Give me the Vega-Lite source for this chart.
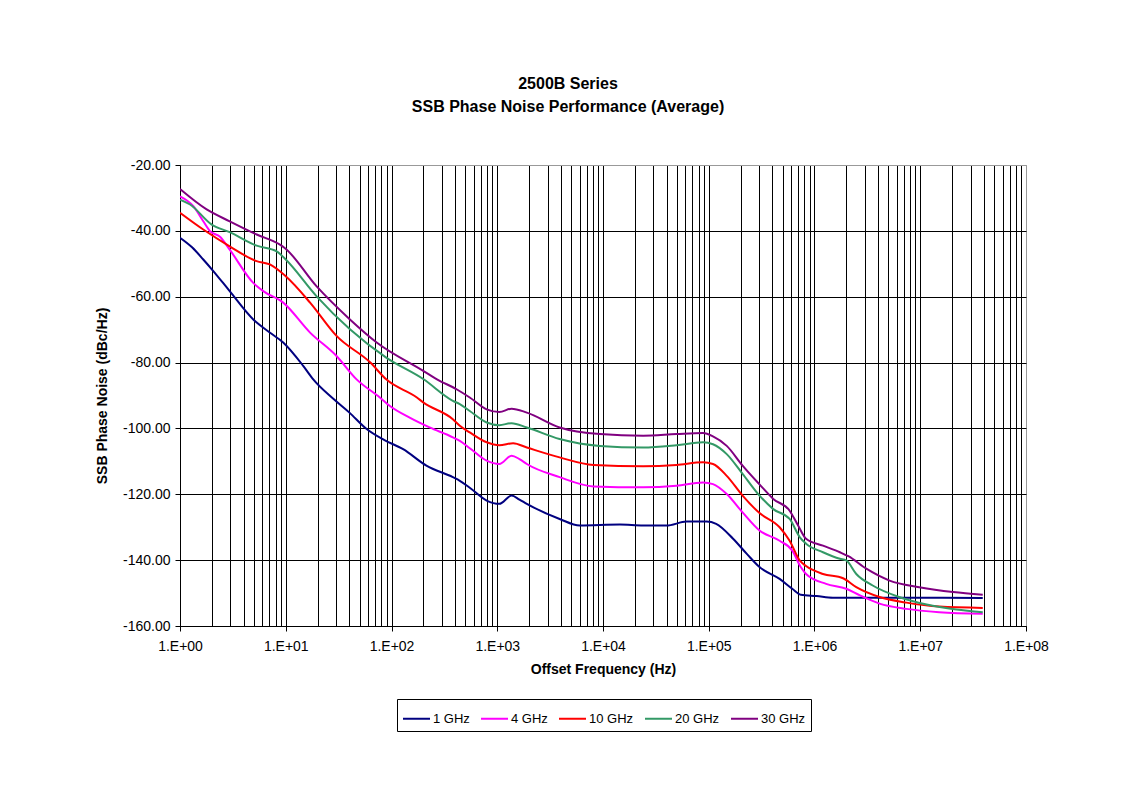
{
  "$schema": "https://vega.github.io/schema/vega-lite/v6.json",
  "width": 846,
  "height": 461,
  "autosize": {"type": "none"},
  "padding": {"left": 180, "top": 165, "right": 101, "bottom": 163},
  "background": "white",
  "config": {
    "font": "Liberation Sans",
    "view": {"stroke": "#999999", "strokeWidth": 1},
    "axis": {"labelFont": "Liberation Sans", "titleFont": "Liberation Sans", "labelColor": "#000", "titleColor": "#000"}
  },
  "title": {
    "text": ["2500B Series", "SSB Phase Noise Performance (Average)"],
    "fontSize": 16,
    "fontWeight": "bold",
    "font": "Liberation Sans",
    "color": "#000",
    "anchor": "middle",
    "frame": "group",
    "dx": -35,
    "offset": 43,
    "lineHeight": 23
  },
  "data": {
    "values": [
      {"s": "1 GHz", "f": 1, "v": -42.1},
      {"s": "1 GHz", "f": 1.3, "v": -45.0},
      {"s": "1 GHz", "f": 1.66, "v": -48.7},
      {"s": "1 GHz", "f": 2.065, "v": -52.2},
      {"s": "1 GHz", "f": 2.951, "v": -58.3},
      {"s": "1 GHz", "f": 4.93, "v": -66.9},
      {"s": "1 GHz", "f": 7.0, "v": -70.8},
      {"s": "1 GHz", "f": 9.462, "v": -73.9},
      {"s": "1 GHz", "f": 14.62, "v": -81.0},
      {"s": "1 GHz", "f": 18.2, "v": -85.1},
      {"s": "1 GHz", "f": 28.18, "v": -91.0},
      {"s": "1 GHz", "f": 40, "v": -95.2},
      {"s": "1 GHz", "f": 58.21, "v": -100.2},
      {"s": "1 GHz", "f": 85, "v": -103.5},
      {"s": "1 GHz", "f": 128.8, "v": -106.3},
      {"s": "1 GHz", "f": 213.8, "v": -111.3},
      {"s": "1 GHz", "f": 380.2, "v": -114.8},
      {"s": "1 GHz", "f": 442.6, "v": -115.9},
      {"s": "1 GHz", "f": 549.5, "v": -118.0},
      {"s": "1 GHz", "f": 794.3, "v": -121.9},
      {"s": "1 GHz", "f": 1047, "v": -122.9},
      {"s": "1 GHz", "f": 1365, "v": -120.4},
      {"s": "1 GHz", "f": 1622, "v": -121.6},
      {"s": "1 GHz", "f": 1905, "v": -122.9},
      {"s": "1 GHz", "f": 3890, "v": -127.5},
      {"s": "1 GHz", "f": 6026, "v": -129.5},
      {"s": "1 GHz", "f": 14454, "v": -129.2},
      {"s": "1 GHz", "f": 23988, "v": -129.5},
      {"s": "1 GHz", "f": 39811, "v": -129.5},
      {"s": "1 GHz", "f": 61660, "v": -128.3},
      {"s": "1 GHz", "f": 95499, "v": -128.3},
      {"s": "1 GHz", "f": 117490, "v": -129.0},
      {"s": "1 GHz", "f": 169824, "v": -133.5},
      {"s": "1 GHz", "f": 229087, "v": -138.1},
      {"s": "1 GHz", "f": 301995, "v": -142.1},
      {"s": "1 GHz", "f": 467735, "v": -145.7},
      {"s": "1 GHz", "f": 616595, "v": -148.7},
      {"s": "1 GHz", "f": 741310, "v": -150.5},
      {"s": "1 GHz", "f": 1047129, "v": -150.9},
      {"s": "1 GHz", "f": 1496236, "v": -151.4},
      {"s": "1 GHz", "f": 3548134, "v": -151.4},
      {"s": "1 GHz", "f": 39000000, "v": -151.5},

      {"s": "4 GHz", "f": 1, "v": -29.5},
      {"s": "4 GHz", "f": 1.337, "v": -32.5},
      {"s": "4 GHz", "f": 1.66, "v": -37.1},
      {"s": "4 GHz", "f": 1.923, "v": -40.1},
      {"s": "4 GHz", "f": 2.388, "v": -41.8},
      {"s": "4 GHz", "f": 2.951, "v": -45.7},
      {"s": "4 GHz", "f": 4.93, "v": -55.8},
      {"s": "4 GHz", "f": 6.124, "v": -58.3},
      {"s": "4 GHz", "f": 9.462, "v": -61.8},
      {"s": "4 GHz", "f": 16.98, "v": -70.9},
      {"s": "4 GHz", "f": 30.2, "v": -78.0},
      {"s": "4 GHz", "f": 46.77, "v": -85.1},
      {"s": "4 GHz", "f": 77.62, "v": -90.6},
      {"s": "4 GHz", "f": 96.6, "v": -93.2},
      {"s": "4 GHz", "f": 150, "v": -96.8},
      {"s": "4 GHz", "f": 229.1, "v": -99.7},
      {"s": "4 GHz", "f": 380.2, "v": -102.7},
      {"s": "4 GHz", "f": 442.6, "v": -103.8},
      {"s": "4 GHz", "f": 549.5, "v": -106.0},
      {"s": "4 GHz", "f": 794.3, "v": -109.8},
      {"s": "4 GHz", "f": 1047, "v": -110.8},
      {"s": "4 GHz", "f": 1365, "v": -108.3},
      {"s": "4 GHz", "f": 1622, "v": -109.3},
      {"s": "4 GHz", "f": 1905, "v": -110.8},
      {"s": "4 GHz", "f": 3890, "v": -114.8},
      {"s": "4 GHz", "f": 8128, "v": -117.6},
      {"s": "4 GHz", "f": 23988, "v": -117.9},
      {"s": "4 GHz", "f": 49545, "v": -117.4},
      {"s": "4 GHz", "f": 88308, "v": -116.4},
      {"s": "4 GHz", "f": 109648, "v": -116.9},
      {"s": "4 GHz", "f": 147911, "v": -119.9},
      {"s": "4 GHz", "f": 208930, "v": -125.5},
      {"s": "4 GHz", "f": 301995, "v": -131.0},
      {"s": "4 GHz", "f": 467735, "v": -134.1},
      {"s": "4 GHz", "f": 616595, "v": -137.1},
      {"s": "4 GHz", "f": 741310, "v": -142.1},
      {"s": "4 GHz", "f": 831764, "v": -144.2},
      {"s": "4 GHz", "f": 1288250, "v": -147.2},
      {"s": "4 GHz", "f": 1995262, "v": -148.7},
      {"s": "4 GHz", "f": 2691535, "v": -150.7},
      {"s": "4 GHz", "f": 4120975, "v": -153.2},
      {"s": "4 GHz", "f": 7413102, "v": -154.8},
      {"s": "4 GHz", "f": 15135612, "v": -155.8},
      {"s": "4 GHz", "f": 39000000, "v": -156.3},

      {"s": "10 GHz", "f": 1, "v": -34.5},
      {"s": "10 GHz", "f": 1.66, "v": -39.6},
      {"s": "10 GHz", "f": 2.951, "v": -44.7},
      {"s": "10 GHz", "f": 5.309, "v": -49.2},
      {"s": "10 GHz", "f": 7.079, "v": -50.2},
      {"s": "10 GHz", "f": 10, "v": -53.8},
      {"s": "10 GHz", "f": 16.98, "v": -61.8},
      {"s": "10 GHz", "f": 30.2, "v": -71.9},
      {"s": "10 GHz", "f": 63.1, "v": -80.0},
      {"s": "10 GHz", "f": 89.13, "v": -85.1},
      {"s": "10 GHz", "f": 173.8, "v": -90.6},
      {"s": "10 GHz", "f": 199.5, "v": -92.1},
      {"s": "10 GHz", "f": 380.2, "v": -97.2},
      {"s": "10 GHz", "f": 442.6, "v": -99.2},
      {"s": "10 GHz", "f": 549.5, "v": -101.2},
      {"s": "10 GHz", "f": 794.3, "v": -104.2},
      {"s": "10 GHz", "f": 1047, "v": -105.1},
      {"s": "10 GHz", "f": 1413, "v": -104.5},
      {"s": "10 GHz", "f": 1905, "v": -105.8},
      {"s": "10 GHz", "f": 3890, "v": -108.8},
      {"s": "10 GHz", "f": 8128, "v": -111.1},
      {"s": "10 GHz", "f": 23988, "v": -111.5},
      {"s": "10 GHz", "f": 49545, "v": -111.1},
      {"s": "10 GHz", "f": 88308, "v": -110.3},
      {"s": "10 GHz", "f": 109648, "v": -110.8},
      {"s": "10 GHz", "f": 147911, "v": -114.4},
      {"s": "10 GHz", "f": 208930, "v": -120.4},
      {"s": "10 GHz", "f": 301995, "v": -125.7},
      {"s": "10 GHz", "f": 467735, "v": -130.0},
      {"s": "10 GHz", "f": 582103, "v": -134.1},
      {"s": "10 GHz", "f": 724436, "v": -140.1},
      {"s": "10 GHz", "f": 831764, "v": -141.8},
      {"s": "10 GHz", "f": 1202264, "v": -144.2},
      {"s": "10 GHz", "f": 1862087, "v": -145.5},
      {"s": "10 GHz", "f": 2483133, "v": -148.2},
      {"s": "10 GHz", "f": 4120975, "v": -151.2},
      {"s": "10 GHz", "f": 7413102, "v": -152.9},
      {"s": "10 GHz", "f": 15135612, "v": -154.1},
      {"s": "10 GHz", "f": 39000000, "v": -154.5},

      {"s": "20 GHz", "f": 1, "v": -30.5},
      {"s": "20 GHz", "f": 1.245, "v": -32.0},
      {"s": "20 GHz", "f": 1.995, "v": -38.1},
      {"s": "20 GHz", "f": 2.951, "v": -40.4},
      {"s": "20 GHz", "f": 5.309, "v": -44.5},
      {"s": "20 GHz", "f": 8.204, "v": -46.2},
      {"s": "20 GHz", "f": 10, "v": -48.7},
      {"s": "20 GHz", "f": 19.5, "v": -59.8},
      {"s": "20 GHz", "f": 40.46, "v": -69.9},
      {"s": "20 GHz", "f": 89.13, "v": -78.5},
      {"s": "20 GHz", "f": 199.5, "v": -85.0},
      {"s": "20 GHz", "f": 380.2, "v": -91.6},
      {"s": "20 GHz", "f": 442.6, "v": -92.6},
      {"s": "20 GHz", "f": 549.5, "v": -94.7},
      {"s": "20 GHz", "f": 794.3, "v": -98.2},
      {"s": "20 GHz", "f": 1047, "v": -99.0},
      {"s": "20 GHz", "f": 1365, "v": -98.4},
      {"s": "20 GHz", "f": 1905, "v": -99.7},
      {"s": "20 GHz", "f": 3890, "v": -103.2},
      {"s": "20 GHz", "f": 9333, "v": -105.3},
      {"s": "20 GHz", "f": 23988, "v": -105.8},
      {"s": "20 GHz", "f": 49545, "v": -105.1},
      {"s": "20 GHz", "f": 88308, "v": -104.2},
      {"s": "20 GHz", "f": 109648, "v": -104.8},
      {"s": "20 GHz", "f": 147911, "v": -107.8},
      {"s": "20 GHz", "f": 208930, "v": -113.8},
      {"s": "20 GHz", "f": 301995, "v": -120.4},
      {"s": "20 GHz", "f": 407380, "v": -124.5},
      {"s": "20 GHz", "f": 582103, "v": -127.5},
      {"s": "20 GHz", "f": 724436, "v": -133.0},
      {"s": "20 GHz", "f": 831764, "v": -135.0},
      {"s": "20 GHz", "f": 1202264, "v": -137.6},
      {"s": "20 GHz", "f": 1737801, "v": -139.6},
      {"s": "20 GHz", "f": 1995262, "v": -140.1},
      {"s": "20 GHz", "f": 2483133, "v": -144.2},
      {"s": "20 GHz", "f": 3548134, "v": -147.7},
      {"s": "20 GHz", "f": 6309573, "v": -151.2},
      {"s": "20 GHz", "f": 11481536, "v": -153.5},
      {"s": "20 GHz", "f": 21877616, "v": -155.0},
      {"s": "20 GHz", "f": 39000000, "v": -155.8},

      {"s": "30 GHz", "f": 1, "v": -27.3},
      {"s": "30 GHz", "f": 1.786, "v": -33.5},
      {"s": "30 GHz", "f": 2.951, "v": -37.1},
      {"s": "30 GHz", "f": 5.309, "v": -41.1},
      {"s": "30 GHz", "f": 8.81, "v": -44.2},
      {"s": "30 GHz", "f": 9.772, "v": -45.2},
      {"s": "30 GHz", "f": 19.5, "v": -56.8},
      {"s": "30 GHz", "f": 40.46, "v": -66.9},
      {"s": "30 GHz", "f": 72.44, "v": -73.9},
      {"s": "30 GHz", "f": 199.5, "v": -82.5},
      {"s": "30 GHz", "f": 269.2, "v": -85.1},
      {"s": "30 GHz", "f": 412.1, "v": -88.1},
      {"s": "30 GHz", "f": 549.5, "v": -90.6},
      {"s": "30 GHz", "f": 794.3, "v": -94.2},
      {"s": "30 GHz", "f": 1047, "v": -95.0},
      {"s": "30 GHz", "f": 1365, "v": -94.0},
      {"s": "30 GHz", "f": 1905, "v": -95.2},
      {"s": "30 GHz", "f": 3890, "v": -99.7},
      {"s": "30 GHz", "f": 9333, "v": -101.7},
      {"s": "30 GHz", "f": 23988, "v": -102.2},
      {"s": "30 GHz", "f": 49545, "v": -101.7},
      {"s": "30 GHz", "f": 88308, "v": -101.4},
      {"s": "30 GHz", "f": 109648, "v": -102.4},
      {"s": "30 GHz", "f": 147911, "v": -105.3},
      {"s": "30 GHz", "f": 208930, "v": -111.3},
      {"s": "30 GHz", "f": 301995, "v": -117.0},
      {"s": "30 GHz", "f": 407380, "v": -121.4},
      {"s": "30 GHz", "f": 582103, "v": -125.0},
      {"s": "30 GHz", "f": 699842, "v": -129.5},
      {"s": "30 GHz", "f": 831764, "v": -133.5},
      {"s": "30 GHz", "f": 1202264, "v": -135.6},
      {"s": "30 GHz", "f": 1737801, "v": -137.6},
      {"s": "30 GHz", "f": 2089296, "v": -138.8},
      {"s": "30 GHz", "f": 3090295, "v": -142.6},
      {"s": "30 GHz", "f": 5128614, "v": -146.2},
      {"s": "30 GHz", "f": 9772372, "v": -148.2},
      {"s": "30 GHz", "f": 20417379, "v": -149.7},
      {"s": "30 GHz", "f": 39000000, "v": -150.5}
    ]
  },
  "mark": {"type": "line", "strokeWidth": 2, "clip": true, "interpolate": "monotone"},
  "encoding": {
    "x": {
      "field": "f",
      "type": "quantitative",
      "scale": {"type": "log", "domain": [1, 100000000], "nice": false},
      "axis": {
        "title": "Offset Frequency  (Hz)",
        "titleFontSize": 14,
        "titleFontWeight": "bold",
        "titlePadding": 9,
        "labelFontSize": 14,
        "labelPadding": 8,
        "labelFlush": false,
        "labelOverlap": false,
        "values": [1,2,3,4,5,6,7,8,9,10,20,30,40,50,60,70,80,90,100,200,300,400,500,600,700,800,900,1000,2000,3000,4000,5000,6000,7000,8000,9000,10000,20000,30000,40000,50000,60000,70000,80000,90000,100000,200000,300000,400000,500000,600000,700000,800000,900000,1000000,2000000,3000000,4000000,5000000,6000000,7000000,8000000,9000000,10000000,20000000,30000000,40000000,50000000,60000000,70000000,80000000,90000000,100000000],
        "labelExpr": "abs(log(datum.value)/LN10 - round(log(datum.value)/LN10)) < 0.000001 ? '1.E+0' + round(log(datum.value)/LN10) : ''",
        "tickOpacity": {"condition": {"test": "abs(log(datum.value)/LN10 - round(log(datum.value)/LN10)) < 0.000001", "value": 1}, "value": 0},
        "tickSize": 5,
        "tickColor": "#000",
        "domainColor": "#000",
        "grid": true,
        "gridColor": {"condition": {"test": "datum.value > 99999999", "value": "#999999"}, "value": "#000000"},
        "gridOpacity": 1,
        "gridWidth": 1
      }
    },
    "y": {
      "field": "v",
      "type": "quantitative",
      "scale": {"domain": [-160, -20], "nice": false, "zero": false},
      "axis": {
        "title": "SSB Phase Noise (dBc/Hz)",
        "titleFontSize": 14,
        "titleFontWeight": "bold",
        "titlePadding": 13,
        "labelFontSize": 14,
        "labelPadding": 5,
        "values": [-160, -140, -120, -100, -80, -60, -40, -20],
        "labelExpr": "replace(format(datum.value, '.2f'), '\u2212', '-')",
        "tickSize": 5,
        "tickColor": "#000",
        "domainColor": "#000",
        "grid": true,
        "gridColor": {"condition": {"test": "datum.value > -21", "value": "#999999"}, "value": "#000000"},
        "gridOpacity": 1,
        "gridWidth": 1
      }
    },
    "color": {
      "field": "s",
      "type": "nominal",
      "sort": ["1 GHz", "4 GHz", "10 GHz", "20 GHz", "30 GHz"],
      "scale": {"domain": ["1 GHz", "4 GHz", "10 GHz", "20 GHz", "30 GHz"], "range": ["#000080", "#FF00FF", "#FF0000", "#339966", "#800080"]},
      "legend": {
        "title": null,
        "orient": "none",
        "direction": "horizontal",
        "legendX": 217,
        "legendY": 534,
        "strokeColor": "#000",
        "fillColor": "#fff",
        "padding": 5,
        "symbolType": "stroke",
        "symbolSize": 729,
        "symbolStrokeWidth": 2,
        "labelFontSize": 13,
        "labelFont": "Liberation Sans",
        "labelColor": "#000",
        "labelOffset": 2,
        "columnPadding": 7
      }
    }
  }
}
